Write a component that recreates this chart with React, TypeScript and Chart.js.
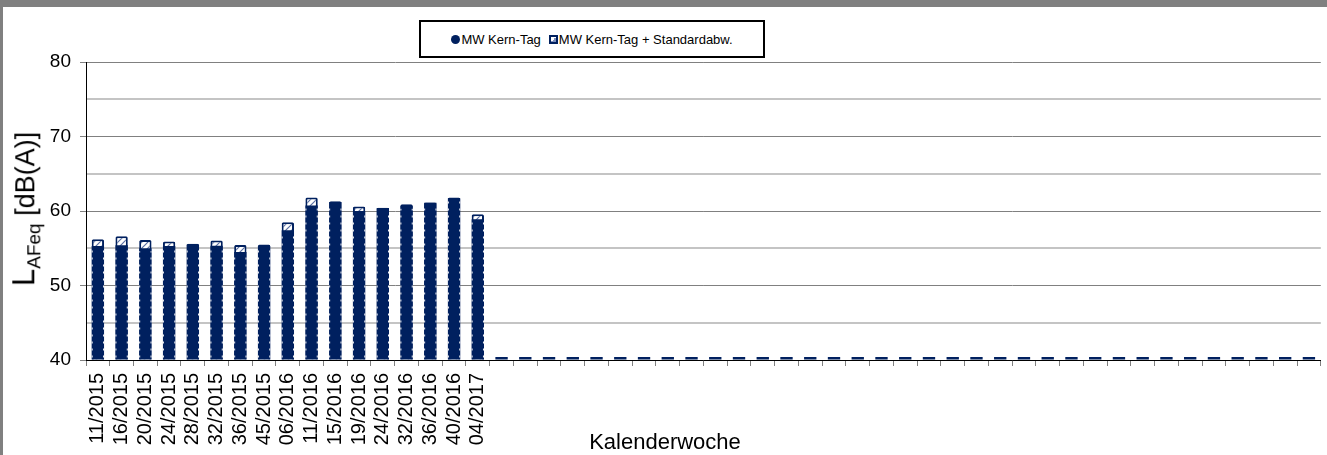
import React, { useEffect, useRef } from 'react';
import { Chart, registerables } from 'chart.js';

Chart.register(...registerables);

const seriesNames = ['MW Kern-Tag', 'MW Kern-Tag + Standardabw.'];

const weekLabels = [
  '11/2015', '16/2015', '20/2015', '24/2015', '28/2015', '32/2015', '36/2015', '45/2015',
  '06/2016', '11/2016', '15/2016', '19/2016', '24/2016', '32/2016', '36/2016', '40/2016', '04/2017',
  '', '', '', '', '', '', '', '', '', '', '', '', '', '', '', '', '', '',
  '', '', '', '', '', '', '', '', '', '', '', '', '', '', '', '', '',
];

const mwValues = [
  55.3, 55.4, 55.0, 55.3, 55.5, 55.35, 54.5, 55.3,
  57.4, 60.75, 61.2, 60.0, 60.4, 60.7, 61.1, 61.7, 58.9,
  40, 40, 40, 40, 40, 40, 40, 40, 40, 40, 40, 40, 40, 40, 40, 40, 40, 40,
  40, 40, 40, 40, 40, 40, 40, 40, 40, 40, 40, 40, 40, 40, 40, 40, 40,
];

const mwSdValues = [
  56.2, 56.6, 56.1, 55.9, 55.6, 56.05, 55.45, 55.5,
  58.5, 61.8, 61.3, 60.6, 60.45, 60.9, 61.15, 61.8, 59.55,
  40, 40, 40, 40, 40, 40, 40, 40, 40, 40, 40, 40, 40, 40, 40, 40, 40, 40,
  40, 40, 40, 40, 40, 40, 40, 40, 40, 40, 40, 40, 40, 40, 40, 40, 40,
];

const yMin = 40;
const yMax = 80;
const yStep = 5;

const NAVY = '#00205f';
const FONT = '"Liberation Sans", Arial, Helvetica, sans-serif';

function makeHatch(): CanvasPattern | string {
  const c = document.createElement('canvas');
  c.width = 6;
  c.height = 6;
  const g = c.getContext('2d');
  if (!g) return '#ffffff';
  g.fillStyle = '#ffffff';
  g.fillRect(0, 0, 6, 6);
  g.strokeStyle = '#5a6fa3';
  g.lineWidth = 1.2;
  g.beginPath();
  g.moveTo(0, 6); g.lineTo(6, 0);
  g.moveTo(-1, 1); g.lineTo(1, -1);
  g.moveTo(5, 7); g.lineTo(7, 5);
  g.stroke();
  return g.createPattern(c, 'repeat') || '#ffffff';
}

const notchPlugin = {
  id: 'notches',
  afterDatasetDraw(chart: any, args: any) {
    if (args.index !== 0) return;
    const ctx = chart.ctx as CanvasRenderingContext2D;
    ctx.save();
    ctx.strokeStyle = 'rgba(255,255,255,0.95)';
    ctx.lineWidth = 1;
    ctx.setLineDash([2, 5]);
    args.meta.data.forEach((el: any) => {
      const p = el.getProps(['x', 'y', 'base', 'width'], true);
      if (p.base - p.y < 8) return;
      [p.x - p.width / 2 + 0.5, p.x + p.width / 2 - 0.5].forEach((px) => {
        ctx.beginPath();
        ctx.moveTo(px, p.base - 2);
        ctx.lineTo(px, p.y + 3);
        ctx.stroke();
      });
    });
    ctx.restore();
  },
};

export default function App() {
  const ref = useRef<HTMLCanvasElement | null>(null);

  useEffect(() => {
    if (!ref.current) return;
    Chart.defaults.font.family = FONT;
    const hatch = makeHatch();
    const chart = new Chart(ref.current, {
      type: 'bar',
      data: {
        labels: weekLabels,
        datasets: [
          {
            label: seriesNames[0],
            data: mwValues,
            base: yMin,
            backgroundColor: NAVY,
            borderWidth: 0,
            grouped: false,
            minBarLength: 3,
            barPercentage: 0.52,
            categoryPercentage: 1,
          },
          {
            label: seriesNames[1],
            data: mwSdValues,
            base: yMin,
            backgroundColor: hatch as any,
            borderColor: NAVY,
            borderWidth: 2,
            borderSkipped: 'bottom',
            borderRadius: 1.5,
            grouped: false,
            barPercentage: 0.52,
            categoryPercentage: 1,
          },
        ],
      },
      options: {
        responsive: false,
        animation: false,
        devicePixelRatio: 1,
        layout: { padding: { top: 62, left: 0, right: 8, bottom: 0 } },
        plugins: {
          legend: { display: false },
          tooltip: { enabled: false },
          title: { display: false },
        },
        scales: {
          x: {
            afterFit: (s: any) => { s.height = 95; },
            offset: true,
            border: { display: true, color: '#000000', width: 1 },
            grid: {
              offset: true,
              drawOnChartArea: false,
              drawTicks: true,
              tickLength: 6,
              tickColor: '#808080',
              color: '#808080',
            },
            ticks: {
              autoSkip: false,
              maxRotation: 90,
              minRotation: 90,
              padding: 7,
              color: '#000000',
              font: { size: 20, family: FONT },
            },
          },
          y: {
            min: yMin,
            max: yMax,
            afterFit: (s: any) => { s.width = 86; },
            border: { display: true, color: '#000000', width: 1 },
            grid: {
              color: (c: any) => (c.tick && c.tick.value % 10 === 0 ? '#808080' : '#c4c4c4'),
              lineWidth: (c: any) => (c.tick && c.tick.value % 10 === 0 ? 1 : 2),
              tickColor: (c: any) => (c.tick && c.tick.value % 10 === 0 ? '#808080' : 'rgba(0,0,0,0)'),
              tickLength: 6,
              drawTicks: true,
            },
            ticks: {
              stepSize: yStep,
              padding: 9,
              color: '#000000',
              font: { size: 19, family: FONT },
              callback: (v: any) => (Number(v) % 10 === 0 ? String(v) : ''),
            },
          },
        },
      },
      plugins: [notchPlugin],
    } as any);
    return () => chart.destroy();
  }, []);

  return (
    <div
      style={{
        position: 'fixed', left: 0, top: 0, width: 1327, height: 455,
        overflow: 'hidden', background: '#ffffff', fontFamily: FONT, color: '#000',
      }}
    >
      <div style={{ position: 'absolute', left: 0, top: 0, width: 1340, height: 455 }}>
        <canvas ref={ref} width={1340} height={455} style={{ display: 'block' }} />
      </div>
      <div style={{ position: 'absolute', left: 0, top: 0, width: 1327, height: 7, background: '#808080' }} />
      <div style={{ position: 'absolute', left: 0, top: 0, width: 3, height: 455, background: '#808080' }} />
      <div
        style={{
          position: 'absolute', left: 419, top: 20, width: 346, height: 38,
          boxSizing: 'border-box', border: '2px solid #000', background: '#fff',
          display: 'flex', alignItems: 'center', justifyContent: 'center', gap: 8,
          fontSize: 13, whiteSpace: 'nowrap',
        }}
      >
        <span style={{ display: 'inline-flex', alignItems: 'center' }}>
          <span style={{ display: 'inline-block', width: 9, height: 9, borderRadius: '50%', background: NAVY, marginRight: 1 }} />
          {seriesNames[0]}
        </span>
        <span style={{ display: 'inline-flex', alignItems: 'center' }}>
          <span
            style={{
              display: 'inline-block', width: 9, height: 9, boxSizing: 'border-box',
              border: `2px solid ${NAVY}`, marginRight: 1,
              background: 'linear-gradient(135deg, #ffffff 50%, #7d8fbd 50%)',
            }}
          />
          {seriesNames[1]}
        </span>
      </div>
      <div
        style={{
          position: 'absolute', left: 26, top: 209, fontSize: 27, whiteSpace: 'nowrap',
          transform: 'translate(-50%, -50%) rotate(-90deg)',
        }}
      >
        <span style={{ fontSize: 31 }}>L</span>
        <sub style={{ fontSize: 19 }}>AFeq</sub> [dB(A)]
      </div>
      <div
        style={{
          position: 'absolute', left: 665, top: 429, fontSize: 22, whiteSpace: 'nowrap',
          transform: 'translateX(-50%)',
        }}
      >
        Kalenderwoche
      </div>
    </div>
  );
}
